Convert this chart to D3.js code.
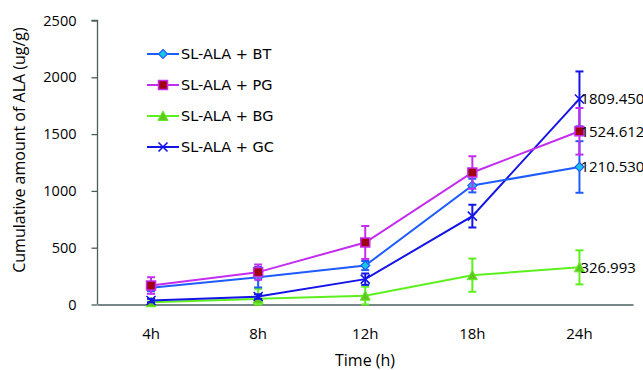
<!DOCTYPE html>
<html><head><meta charset="utf-8">
<script src="https://cdn.jsdelivr.net/npm/d3@7"></script>
<style>body{margin:0;background:#fff}text{fill:#000}</style>
</head><body><svg id="c" width="643" height="370" style="font-family:'Open Sans','Noto Sans',sans-serif"></svg>
<script>
const categories = ["4h","8h","12h","18h","24h"];
const seriesNames = ["SL-ALA + BT","SL-ALA + PG","SL-ALA + BG","SL-ALA + GC"];
const btValues = [147, 240, 343, 1047, 1210.530];
const btErrors = [30, 90, 40, 60, 227];
const pgValues = [167, 285, 546, 1162, 1524.612];
const pgErrors = [73, 67, 145, 143, 205];
const bgValues = [20, 50, 77, 258, 326.993];
const bgErrors = [25, 88, 80, 146, 150];
const gcValues = [35, 70, 223, 778, 1809.450];
const gcErrors = [15, 20, 50, 100, 242];
const yTicks = [0, 500, 1000, 1500, 2000, 2500];
const endLabels = ["1210.530","1524.612","326.993","1809.450"];

const series = [
  {name:seriesNames[0], vals:btValues, errs:btErrors, line:"#1f5cff", fill:"#18c8e0", stroke:"#1f5cff", marker:"diamond"},
  {name:seriesNames[1], vals:pgValues, errs:pgErrors, line:"#c42cf0", fill:"#a00010", stroke:"#c42cf0", marker:"square"},
  {name:seriesNames[2], vals:bgValues, errs:bgErrors, line:"#5ef01e", fill:"#5ec81e", stroke:"#5ef01e", marker:"triangle"},
  {name:seriesNames[3], vals:gcValues, errs:gcErrors, line:"#1414e6", fill:"none", stroke:"#1414e6", marker:"x"}
];

const svg = d3.select("#c");
const x = d3.scaleBand().domain(categories).range([97.5, 633]);
const y = d3.scaleLinear().domain([0, 2500]).range([304.5, 20.5]);
const axisColor = "#4a5e5e";
const OS = "'Open Sans',sans-serif";

const ya = svg.append("g").attr("transform","translate(97.5,0)")
  .call(d3.axisLeft(y).tickValues(yTicks).tickSize(6).tickPadding(15).tickFormat(d3.format("d")));
ya.select(".domain").attr("stroke",axisColor).attr("stroke-width",1.3).attr("d","M-6,20.5H0V304.5");
ya.selectAll(".tick line").attr("stroke",axisColor).attr("stroke-width",1.3);
ya.selectAll(".tick text").style("font-size","14.5px").style("font-family",OS);

const xa = svg.append("g").attr("transform","translate(0,304.5)")
  .call(d3.axisBottom(x).tickSize(0).tickPadding(24));
xa.select(".domain").attr("stroke",axisColor).attr("stroke-width",1.3);
xa.selectAll(".tick text").style("font-size","15px").style("font-family",OS);

svg.append("text").attr("transform","translate(25,150) rotate(-90)").attr("text-anchor","middle")
  .style("font-size","16px").text("Cumulative amount of ALA (ug/g)");
svg.append("text").attr("x",365).attr("y",366).attr("text-anchor","middle")
  .style("font-size","16px").text("Time (h)");

const cx = c => x(c) + x.bandwidth()/2;

function drawMarker(g, s, px, py){
  if(s.marker==="diamond"){
    g.append("path").attr("d",`M${px},${py-4.5}L${px+4.5},${py}L${px},${py+4.5}L${px-4.5},${py}Z`)
      .attr("fill",s.fill).attr("stroke",s.stroke).attr("stroke-width",1.2);
  } else if(s.marker==="square"){
    g.append("rect").attr("x",px-4.5).attr("y",py-4.5).attr("width",9).attr("height",9)
      .attr("fill",s.fill).attr("stroke",s.stroke).attr("stroke-width",1.5);
  } else if(s.marker==="triangle"){
    g.append("path").attr("d",`M${px},${py-5}L${px+5},${py+4.5}L${px-5},${py+4.5}Z`)
      .attr("fill",s.fill).attr("stroke",s.stroke).attr("stroke-width",1);
  } else {
    g.append("path").attr("d",`M${px-4.5},${py-4.5}L${px+4.5},${py+4.5}M${px-4.5},${py+4.5}L${px+4.5},${py-4.5}`)
      .attr("stroke",s.stroke).attr("stroke-width",1.6).attr("fill","none");
  }
}

const line = d3.line().x((d,i)=>cx(categories[i])).y(d=>y(d));
const order = [2,3,0,1];
order.forEach(k=>{
  const s = series[k];
  const g = svg.append("g");
  s.vals.forEach((v,i)=>{
    const px = cx(categories[i]);
    const lo = y(Math.max(0, v - s.errs[i])), hi = y(v + s.errs[i]);
    g.append("line").attr("x1",px).attr("x2",px).attr("y1",lo).attr("y2",hi).attr("stroke",s.line).attr("stroke-width",2);
    [lo,hi].forEach(yy=>g.append("line").attr("x1",px-4).attr("x2",px+4).attr("y1",yy).attr("y2",yy).attr("stroke",s.line).attr("stroke-width",2));
  });
  g.append("path").datum(s.vals).attr("d",line).attr("fill","none").attr("stroke",s.line).attr("stroke-width",2);
  s.vals.forEach((v,i)=>drawMarker(g, s, cx(categories[i]), y(v)));
});

series.forEach((s,k)=>{
  const v = s.vals[s.vals.length-1];
  svg.append("text").attr("x",cx(categories[4])+1).attr("y",y(v)).attr("dy","0.35em")
    .style("font-size","15px").text(endLabels[k]);
});

const lg = svg.append("g");
series.forEach((s,k)=>{
  const ly = 54 + k*31;
  lg.append("line").attr("x1",147).attr("x2",179).attr("y1",ly).attr("y2",ly).attr("stroke",s.line).attr("stroke-width",2);
  drawMarker(lg, s, 163, ly);
  lg.append("text").attr("x",181).attr("y",ly).attr("dy","0.36em")
    .style("font-size","14.5px").style("font-family","'DejaVu Sans',sans-serif").text(s.name);
});
</script></body></html>
